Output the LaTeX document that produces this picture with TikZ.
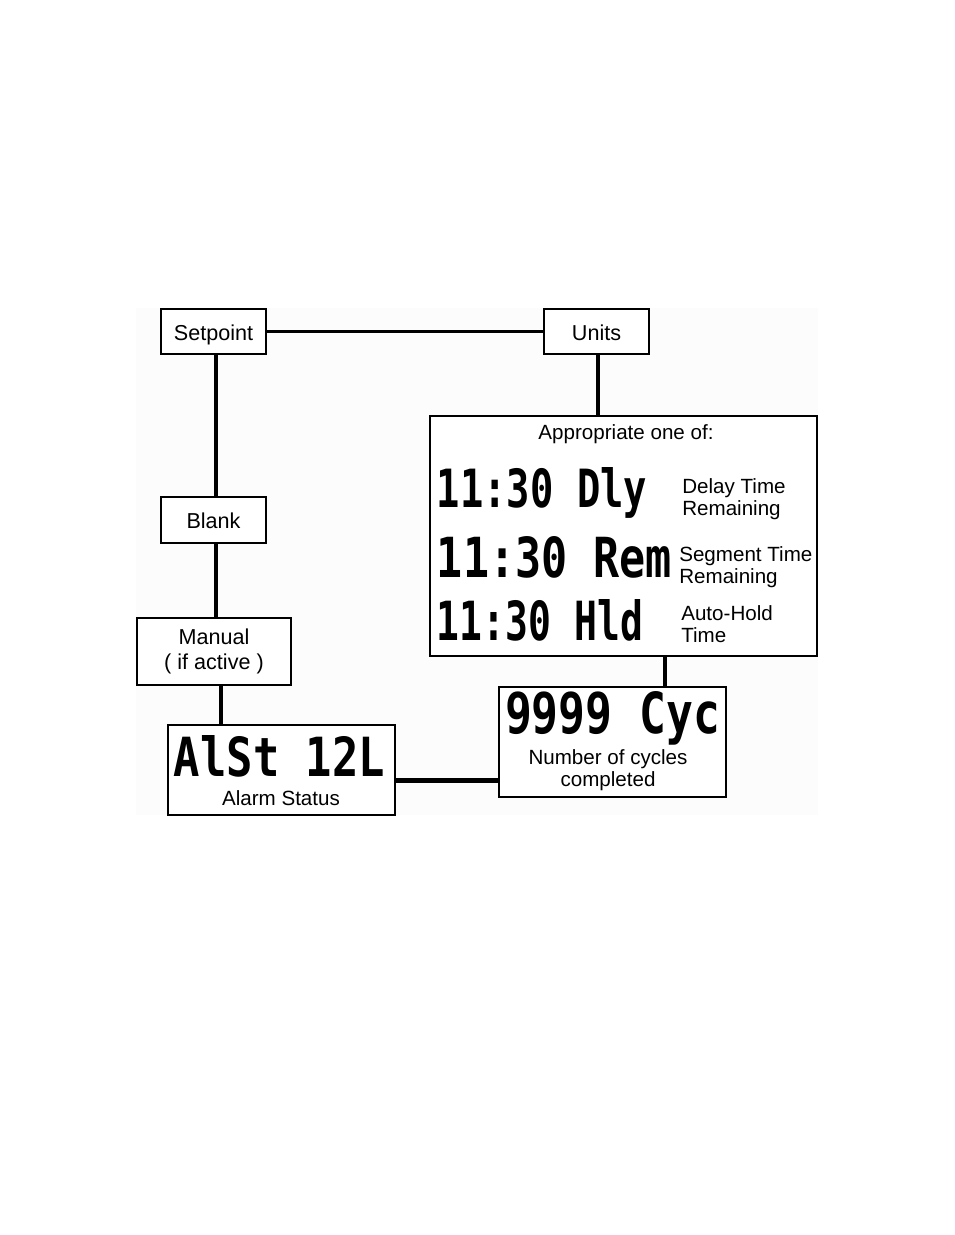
\documentclass[tikz,border=0pt]{standalone}
\usepackage{fontspec}
\setmainfont{Liberation Sans}
\newfontfamily\lcdfont{DejaVu Sans Mono}
\usepackage{graphicx}
\usetikzlibrary{positioning,calc}
\definecolor{panel}{HTML}{FCFCFC}
\newcommand{\px}{0.2263mm}
\newdimen\pxlen \pxlen=0.2263mm
\newcommand{\lcd}[3]{\resizebox{#1\pxlen}{#2\pxlen}{\lcdfont\bfseries #3}}
\newcommand{\sunk}[2][3]{\raisebox{-#1\pxlen}[\height][\depth]{#2}}

\begin{document}
\begin{tikzpicture}[x=0.2263mm,y=-0.2263mm,
	font=\fontsize{13.25}{14.5}\selectfont,
	box/.style={draw,line width=1.2pt,fill=white,inner sep=0pt,align=center,
		font=\fontsize{13.9}{16.5}\selectfont},
	wire/.style={line width=2pt},
	heavywire/.style={line width=3.2pt}]
	\useasboundingbox (0,0) rectangle (954,1235);
	\fill[panel] (136,308) rectangle (818,815);

	\begin{scope}[every node/.style={box}]
		\node[minimum width=105*\px,minimum height=45*\px] (setpoint) at (213.5,331.5) {\sunk{Setpoint}};
		\node[minimum width=105*\px,minimum height=45*\px] (units) at (596.5,331.5) {\sunk[1]{Units}};
		\node[minimum width=105*\px,minimum height=46*\px] (blank) at (213.5,520) {\sunk[1]{Blank}};
		\node[minimum width=154*\px,minimum height=67*\px] (manual) at (214,651.5) {Manual\\( if active )};
		\node[minimum width=387*\px,minimum height=240*\px] (choices) at (623.5,536) {};
		\node[minimum width=227*\px,minimum height=110*\px] (cycles) at (612.5,742) {};
		\node[minimum width=227*\px,minimum height=90*\px] (alarm) at (281.5,770) {};
	\end{scope}

	\begin{scope}[every node/.style={inner sep=0pt,align=left}]
		\node (oneof) at (626,434) {Appropriate one of:};
		\node (dly) at (542,493) {\lcd{210}{40}{11:30 Dly}};
		\node[anchor=west] (dlytxt) at (682,499) {Delay Time\\Remaining};
		\node (rem) at (554.5,557.5) {\lcd{235}{41}{11:30 Rem}};
		\node[anchor=west] (remtxt) at (679,567) {Segment Time\\Remaining};
		\node (hld) at (540,620.5) {\lcd{206}{41}{11:30 Hld}};
		\node[anchor=west] (hldtxt) at (681,624) {Auto-Hold\\Time};
		\node (cyc) at (612.5,718) {\lcd{215}{42}{9999 Cyc}};
		\node[align=center] (cyctxt) at (608,770) {Number of cycles\\completed};
		\node (alst) at (279.5,756.5) {\lcd{211}{41}{AlSt 12L}};
		\node (alsttxt) at (281,798) {Alarm Status};
	\end{scope}

	\draw[wire] (setpoint) -- (units);
	\draw[wire] ([xshift=2.5*\px]setpoint.south) -- ([xshift=2.5*\px]blank.north);
	\draw[wire] ([xshift=2.5*\px]blank.south) -- ([xshift=2*\px]manual.north);
	\draw[heavywire] ([xshift=7*\px]manual.south) -- ([xshift=7*\px]manual.south |- alarm.north);
	\draw[wire] ([xshift=1.5*\px]units.south) -- ([xshift=1.5*\px]units.south |- choices.north);
	\draw[heavywire] ([xshift=41.5*\px]choices.south) -- ([xshift=41.5*\px]choices.south |- cycles.north);
	\draw[heavywire] ([yshift=-10.5*\px]alarm.east) -- ([yshift=-10.5*\px]alarm.east -| cycles.west);
\end{tikzpicture}
\end{document}
